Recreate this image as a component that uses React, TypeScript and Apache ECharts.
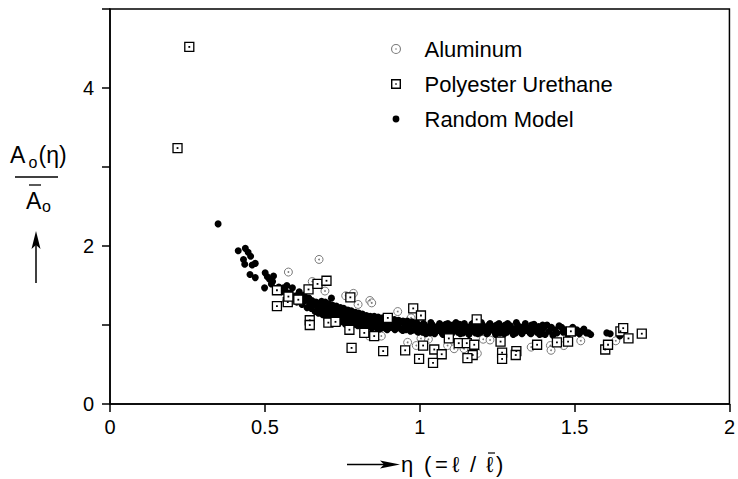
import React, { useEffect, useRef } from 'react';
import * as echarts from 'echarts';

const FONT = "'Liberation Sans', Arial, Helvetica, sans-serif";

// ---- data ----
const xTicks = [0, 0.5, 1, 1.5, 2];
const yTickLabels = ['0', '', '2', '', '4', ''];

const aluminum: [number, number][] = [
  [0.576, 1.67], [0.653, 1.55], [0.675, 1.83], [0.694, 1.43], [0.761, 1.37], [0.786, 1.40],
  [0.801, 1.26], [0.839, 1.31], [0.845, 1.28], [0.929, 1.17], [0.876, 0.86], [0.837, 0.86],
  [0.961, 0.78], [0.989, 0.74], [0.972, 1.09], [1.028, 0.82], [1.004, 0.83], [1.090, 0.74],
  [1.111, 0.70], [1.143, 0.70], [1.186, 0.64], [1.205, 0.82], [1.227, 0.81], [1.360, 0.72],
  [1.422, 0.74], [1.465, 0.74], [1.424, 0.68], [1.520, 0.80], [1.633, 0.80],
];

const polyester: [number, number][] = [
  [0.218, 3.24], [0.256, 4.52], [0.539, 1.44], [0.539, 1.24], [0.574, 1.29], [0.576, 1.36],
  [0.608, 1.32], [0.641, 1.45], [0.670, 1.52], [0.699, 1.56], [0.776, 1.35], [0.645, 1.06],
  [0.645, 1.00], [0.705, 1.03], [0.728, 1.04], [0.773, 0.94], [0.821, 0.90], [0.853, 0.86],
  [0.780, 0.71], [0.882, 0.67], [0.897, 1.09], [0.979, 1.21], [1.004, 1.12], [0.953, 0.68],
  [1.011, 0.74], [0.998, 0.57], [1.184, 1.07], [1.047, 0.69], [1.071, 0.63], [1.043, 0.52],
  [1.126, 0.77], [1.152, 0.77], [1.176, 0.75], [1.171, 0.62], [1.154, 0.58], [1.261, 0.79],
  [1.266, 0.65], [1.266, 0.57], [1.312, 0.67], [1.310, 0.62], [1.379, 0.75], [1.094, 0.83],
  [1.443, 0.78], [1.479, 0.79], [1.488, 0.92], [1.599, 0.69], [1.608, 0.75], [1.648, 0.92],
  [1.657, 0.96], [1.674, 0.83], [1.717, 0.89],
];

const randomHead: [number, number][] = [
  [0.349, 2.28], [0.414, 1.94], [0.437, 1.97], [0.446, 1.92], [0.454, 1.87], [0.431, 1.83],
  [0.435, 1.77], [0.459, 1.76], [0.469, 1.78], [0.452, 1.64], [0.469, 1.60], [0.501, 1.66],
  [0.508, 1.61], [0.528, 1.62], [0.525, 1.55], [0.521, 1.52], [0.536, 1.45], [0.555, 1.42],
  [0.568, 1.42], [0.571, 1.50], [0.499, 1.47], [0.589, 1.47], [0.568, 1.30], [0.598, 1.35],
  [0.608, 1.32], [0.582, 1.40], [0.560, 1.47], [0.545, 1.48], [0.515, 1.58],
];

const randomBandA: [number, number][] = [
  [0.600, 1.37], [0.603, 1.29], [0.611, 1.42], [0.616, 1.33], [0.620, 1.26], [0.627, 1.38],
  [0.631, 1.31], [0.636, 1.22], [0.642, 1.34], [0.645, 1.27], [0.650, 1.21], [0.652, 1.31],
  [0.659, 1.26], [0.662, 1.17], [0.665, 1.29], [0.671, 1.22], [0.673, 1.15], [0.678, 1.27],
  [0.681, 1.20], [0.687, 1.13], [0.690, 1.25], [0.693, 1.18], [0.698, 1.11], [0.702, 1.23],
  [0.707, 1.16], [0.710, 1.09], [0.715, 1.34], [0.713, 1.21], [0.718, 1.15], [0.721, 1.08],
  [0.725, 1.20], [0.729, 1.13], [0.733, 1.07], [0.737, 1.19], [0.741, 1.11], [0.743, 1.05],
  [0.749, 1.17], [0.753, 1.10], [0.757, 1.04], [0.761, 1.16], [0.765, 1.09], [0.767, 1.03],
  [0.773, 1.14], [0.777, 1.08], [0.781, 1.02], [0.785, 1.13], [0.789, 1.07], [0.791, 1.01],
  [0.797, 1.12], [0.801, 1.06],
];

const randomBandB: [number, number][] = [
  [0.805, 1.00], [0.809, 1.11], [0.813, 1.05], [0.817, 0.99], [0.821, 1.10], [0.826, 1.04],
  [0.829, 0.98], [0.836, 1.09], [0.839, 1.03], [0.846, 0.98], [0.849, 1.08], [0.856, 1.02],
  [0.859, 0.97], [0.866, 1.07], [0.869, 1.01], [0.876, 0.96], [0.879, 1.06], [0.886, 1.00],
  [0.889, 0.96], [0.896, 1.05], [0.899, 0.99], [0.906, 0.97], [0.909, 1.06], [0.916, 1.00],
  [0.919, 0.96], [0.927, 1.05], [0.931, 0.99], [0.939, 0.95], [0.943, 1.04], [0.951, 0.98],
  [0.955, 0.94], [0.963, 1.03], [0.967, 0.97], [0.975, 0.93], [0.979, 1.02], [0.987, 0.96],
  [0.991, 0.92], [0.997, 1.00],
];

const randomBandC: [number, number][] = [
  [1.004, 0.95], [1.009, 0.91], [1.016, 1.00], [1.022, 0.93], [1.028, 0.97], [1.033, 0.90],
  [1.039, 1.01], [1.044, 0.94], [1.050, 0.91], [1.056, 0.98], [1.061, 0.93], [1.067, 1.00],
  [1.072, 0.90], [1.078, 0.96], [1.084, 1.01], [1.089, 0.92], [1.095, 0.97], [1.101, 0.90],
  [1.106, 1.00], [1.112, 0.94], [1.118, 0.98], [1.123, 0.91], [1.129, 1.01], [1.135, 0.95],
  [1.140, 0.90], [1.146, 0.99], [1.152, 0.93], [1.157, 0.97], [1.163, 0.91], [1.168, 1.01],
  [1.174, 0.94], [1.180, 0.90], [1.186, 0.99], [1.191, 0.95], [1.197, 0.91], [1.203, 1.00],
  [1.208, 0.93], [1.214, 0.97], [1.220, 0.90], [1.225, 1.01], [1.231, 0.94], [1.237, 0.98],
  [1.242, 0.91], [1.248, 1.00], [1.254, 0.95], [1.259, 0.90], [1.265, 0.98], [1.271, 0.93],
  [1.276, 1.00], [1.282, 0.91], [1.288, 0.96], [1.293, 0.99], [1.299, 0.92], [1.305, 0.95],
  [1.310, 0.90], [1.316, 1.00], [1.322, 0.94], [1.327, 0.97], [1.333, 0.91], [1.339, 0.99],
  [1.344, 0.93], [1.350, 0.96], [1.356, 0.90], [1.361, 1.00], [1.367, 0.94], [1.373, 0.97],
  [1.378, 0.91], [1.384, 0.98], [1.390, 0.93], [1.395, 0.89],
];

const randomBandD: [number, number][] = [
  [1.400, 0.96], [1.405, 0.88], [1.411, 1.00], [1.418, 0.92], [1.425, 0.97], [1.430, 0.87],
  [1.437, 0.94], [1.443, 0.90], [1.450, 0.99], [1.458, 0.97], [1.463, 0.91], [1.470, 0.94],
  [1.478, 0.88], [1.486, 0.94], [1.494, 0.97], [1.500, 0.90], [1.507, 0.94], [1.515, 0.89],
  [1.523, 0.92], [1.530, 0.95], [1.538, 0.90], [1.545, 0.90], [1.552, 0.88],
];

const randomUpperEdge: [number, number][] = [
  [0.683, 1.30], [0.695, 1.29], [0.706, 1.27], [0.719, 1.25], [0.731, 1.24], [0.744, 1.22],
  [0.755, 1.21], [0.768, 1.19], [0.779, 1.18], [0.792, 1.16], [0.803, 1.15], [0.815, 1.14],
  [0.828, 1.12], [0.840, 1.11], [0.853, 1.11], [0.866, 1.10], [0.880, 1.09], [0.893, 1.08],
  [0.905, 1.08], [0.918, 1.07], [0.932, 1.06], [0.946, 1.05], [0.960, 1.05], [0.975, 1.04],
  [0.990, 1.03], [1.012, 1.02], [1.036, 1.03], [1.064, 1.02], [1.091, 1.02], [1.117, 1.03],
  [1.144, 1.02], [1.171, 1.02], [1.199, 1.03], [1.227, 1.02], [1.256, 1.02], [1.284, 1.02],
  [1.312, 1.03], [1.341, 1.02], [1.369, 1.01], [1.397, 1.00],
];

const randomLowerEdge: [number, number][] = [
  [0.700, 1.07], [0.720, 1.05], [0.740, 1.03], [0.760, 1.01], [0.780, 1.00], [0.800, 0.99],
  [0.820, 0.97], [0.845, 0.96], [0.870, 0.95], [0.895, 0.94], [0.920, 0.94], [0.945, 0.93],
  [0.970, 0.92], [0.995, 0.91], [1.020, 0.89], [1.048, 0.89], [1.075, 0.88], [1.103, 0.89],
  [1.131, 0.89], [1.159, 0.88], [1.188, 0.89], [1.216, 0.89], [1.245, 0.88], [1.273, 0.89],
  [1.302, 0.88], [1.330, 0.89], [1.359, 0.89], [1.387, 0.88],
];

const randomTail: [number, number][] = [[1.604, 0.90], [1.615, 0.89], [1.646, 0.86]];

const randomModel = [
  ...randomHead, ...randomBandA, ...randomBandB, ...randomBandC, ...randomBandD,
  ...randomUpperEdge, ...randomLowerEdge, ...randomTail,
];

const seriesNames = ['Aluminum', 'Polyester Urethane', 'Random Model'];

// legend icons
const ICON_RING_CIRCLE =
  'path://M5,0A5,5 0 1,1 5,10A5,5 0 1,1 5,0Z M5,1.1A3.9,3.9 0 1,0 5,8.9A3.9,3.9 0 1,0 5,1.1Z M5,4.2A0.8,0.8 0 1,1 5,5.8A0.8,0.8 0 1,1 5,4.2Z';
const ICON_RING_SQUARE =
  'path://M0,0H10V10H0Z M1.4,1.4V8.6H8.6V1.4Z M4.3,4.3H5.7V5.7H4.3Z';
const ICON_DOT = 'path://M0,0Z M10,10Z M5,1.6A3.4,3.4 0 1,1 5,8.4A3.4,3.4 0 1,1 5,1.6Z';

const titleText = (text: string, x: number, y: number, size: number) => ({
  type: 'text', x, y, silent: true,
  style: { text, fontSize: size, fontFamily: FONT, fill: '#000', textVerticalAlign: 'middle' },
});

export default function App() {
  const ref = useRef<HTMLDivElement>(null);

  useEffect(() => {
    const chart = echarts.init(ref.current!, null, { renderer: 'svg' });
    const axisLineStyle = { color: '#000', width: 1.5 };
    chart.setOption({
      animation: false,
      backgroundColor: '#fff',
      grid: {
        left: 110, right: 5, top: 9, bottom: 75,
        show: true, borderColor: '#000', borderWidth: 1.5, backgroundColor: 'transparent',
      },
      legend: {
        orient: 'vertical',
        left: 386,
        top: 33,
        itemWidth: 47,
        itemHeight: 10,
        itemGap: 13,
        selectedMode: false,
        textStyle: { fontSize: 22, fontFamily: FONT, color: '#000', lineHeight: 22 },
        data: [
          { name: seriesNames[0], icon: ICON_RING_CIRCLE, itemStyle: { color: '#7a7a7a', borderWidth: 0, opacity: 1 } },
          { name: seriesNames[1], icon: ICON_RING_SQUARE, itemStyle: { color: '#000', borderWidth: 0, opacity: 1 } },
          { name: seriesNames[2], icon: ICON_DOT, itemStyle: { color: '#000', borderWidth: 0, opacity: 1 } },
        ],
      },
      xAxis: {
        type: 'value', min: 0, max: 2, interval: 0.5,
        axisLine: { show: true, lineStyle: axisLineStyle },
        axisTick: { show: true, inside: false, length: 8, lineStyle: axisLineStyle },
        axisLabel: {
          fontSize: 20, fontFamily: FONT, color: '#000', margin: 13,
          formatter: (v: number) => (xTicks.includes(v) ? String(v) : ''),
        },
        splitLine: { show: false },
      },
      yAxis: {
        type: 'value', min: 0, max: 5, interval: 1,
        axisLine: { show: true, lineStyle: axisLineStyle },
        axisTick: { show: true, inside: false, length: 8, lineStyle: axisLineStyle },
        axisLabel: {
          fontSize: 20, fontFamily: FONT, color: '#000', margin: 16,
          formatter: (v: number) => yTickLabels[Math.round(v)] ?? '',
        },
        splitLine: { show: false },
      },
      series: [
        {
          name: seriesNames[0], type: 'scatter', data: aluminum, symbol: 'circle', symbolSize: 8,
          silent: true,
          itemStyle: { color: '#fff', borderColor: '#7a7a7a', borderWidth: 1, opacity: 1 },
        },
        {
          name: 'Aluminum center', type: 'scatter', data: aluminum, symbol: 'circle', symbolSize: 1.8,
          silent: true, itemStyle: { color: '#7a7a7a', opacity: 1 },
        },
        {
          name: seriesNames[2], type: 'scatter', data: randomModel, symbol: 'circle', symbolSize: 7,
          silent: true, itemStyle: { color: '#000', opacity: 1 },
        },
        {
          name: seriesNames[1], type: 'scatter', data: polyester, symbol: 'rect', symbolSize: 9,
          silent: true,
          itemStyle: { color: '#fff', borderColor: '#000', borderWidth: 1.3, opacity: 1 },
        },
        {
          name: 'Polyester center', type: 'scatter', data: polyester, symbol: 'rect', symbolSize: 1.8,
          silent: true, itemStyle: { color: '#000', opacity: 1 },
        },
      ],
      graphic: [
        // y-axis title: A_o(eta) over A-bar_o, with an up arrow
        titleText('A', 10, 155, 23),
        titleText('o', 28.5, 162.5, 16),
        titleText('(η)', 38.5, 155, 23),
        { type: 'line', silent: true, shape: { x1: 15, y1: 177, x2: 58, y2: 177 }, style: { stroke: '#000', lineWidth: 1.5 } },
        titleText('A', 26, 201, 23),
        { type: 'line', silent: true, shape: { x1: 29, y1: 185, x2: 41, y2: 185 }, style: { stroke: '#000', lineWidth: 1.3 } },
        titleText('o', 42, 206.8, 16),
        { type: 'line', silent: true, shape: { x1: 36, y1: 283, x2: 36, y2: 244 }, style: { stroke: '#000', lineWidth: 1.5 } },
        { type: 'polygon', silent: true, shape: { points: [[36, 231], [31.5, 249], [36, 245], [40.5, 249]] }, style: { fill: '#000' } },
        // x-axis title: arrow, then eta (= l / l-bar)
        { type: 'line', silent: true, shape: { x1: 347, y1: 464.5, x2: 386, y2: 464.5 }, style: { stroke: '#000', lineWidth: 1.5 } },
        { type: 'polygon', silent: true, shape: { points: [[400, 464.5], [380, 460.5], [384, 464.5], [380, 468.5]] }, style: { fill: '#000' } },
        titleText('η', 401, 464, 22),
        titleText('(', 424, 464, 22),
        titleText('=', 435, 464, 22),
        titleText('ℓ', 452, 464, 22),
        titleText('/', 470, 464, 22),
        titleText('ℓ', 486, 464, 22),
        { type: 'line', silent: true, shape: { x1: 488, y1: 453, x2: 495, y2: 453 }, style: { stroke: '#000', lineWidth: 1.2 } },
        titleText(')', 496, 464, 22),
      ],
    });
    return () => chart.dispose();
  }, []);

  return <div ref={ref} style={{ position: 'fixed', left: 0, top: 0, width: 738, height: 479 }} />;
}
